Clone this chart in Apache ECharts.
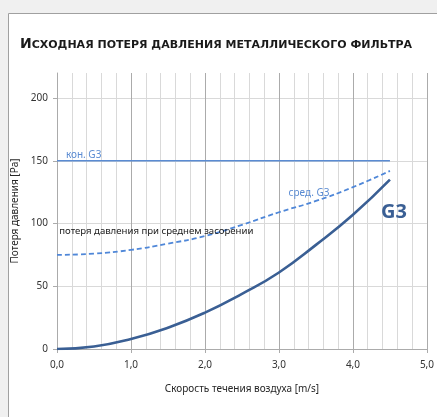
<!DOCTYPE html>
<html>
<head>
<meta charset="utf-8">
<script src="https://cdn.jsdelivr.net/npm/echarts@6/dist/echarts.min.js"></script>
<style>
  html, body { margin: 0; padding: 0; background: #f0f0f0; }
  #chart { width: 437px; height: 417px; }
</style>
</head>
<body>
<div id="chart"></div>
<script>
// Data
var speeds = [0, 0.5, 1.0, 1.5, 2.0, 2.5, 3.0, 3.5, 4.0, 4.5];            // m/s
var initialG3 = [0, 2, 8, 17, 29, 44, 61, 83, 107, 135];                 // Pa (G3)
var averageG3 = [75, 76, 79, 84, 90, 99, 109, 118, 129, 142];            // Pa (сред. G3)
var finalSpeeds = [0, 4.5];
var finalG3 = [150, 150];                                                // Pa (кон. G3)
var yTickLabels = [0, 50, 100, 150, 200];
var xTickLabels = [0, 1, 2, 3, 4, 5];

function pairs(xs, ys) { return xs.map(function (x, i) { return [x, ys[i]]; }); }

var FONT = 'Noto Sans';
var MAJOR = '#ababab', MINOR = '#d9d9d9';

var chart = echarts.init(document.getElementById('chart'), null, { renderer: 'canvas' });

var option = {
  backgroundColor: '#f0f0f0',
  animation: false,
  textStyle: { fontFamily: FONT },
  title: {
    left: 15, top: 32,
    text: '{a|И}{b|СХОДНАЯ ПОТЕРЯ ДАВЛЕНИЯ МЕТАЛЛИЧЕСКОГО ФИЛЬТРА}',
    textStyle: {
      rich: {
        a: { fontFamily: 'DejaVu Sans', fontWeight: 'bold', fontSize: 14, color: '#1a1a1a', verticalAlign: 'bottom' },
        b: { fontFamily: 'DejaVu Sans', fontWeight: 'bold', fontSize: 11, color: '#1a1a1a', verticalAlign: 'bottom' }
      }
    }
  },
  grid: { left: 57, top: 73, width: 370, height: 276, containLabel: false },
  xAxis: {
    type: 'value', min: 0, max: 5, interval: 1,
    name: 'Скорость течения воздуха [m/s]',
    nameLocation: 'middle', nameGap: 35,
    nameTextStyle: { fontFamily: FONT, fontSize: 10, color: '#262626' },
    axisLine: { show: true, lineStyle: { color: MAJOR, width: 1 } },
    axisTick: { show: true, length: 4, lineStyle: { color: MAJOR } },
    axisLabel: {
      fontFamily: FONT, fontSize: 10, color: '#333', margin: 11,
      formatter: function (v) { return v.toFixed(1).replace('.', ','); }
    },
    splitLine: { show: true, lineStyle: { color: MAJOR, width: 1 } },
    minorTick: { show: false, splitNumber: 5 },
    minorSplitLine: { show: true, lineStyle: { color: MINOR, width: 1 } }
  },
  yAxis: {
    type: 'value', min: 0, max: 220, interval: 10,
    name: 'Потеря давления [Pa]',
    nameLocation: 'middle', nameGap: 37, nameRotate: 90,
    nameTextStyle: { fontFamily: FONT, fontSize: 10, color: '#262626' },
    axisLine: { show: true, lineStyle: { color: MAJOR, width: 1 } },
    axisTick: { show: true, length: 4, customValues: yTickLabels, lineStyle: { color: MAJOR } },
    axisLabel: { fontFamily: FONT, fontSize: 10, color: '#333', margin: 9, customValues: yTickLabels },
    splitLine: { show: true, lineStyle: { color: [MAJOR, MINOR, MINOR, MINOR, MINOR], width: 1 } }
  },
  series: [
    {
      name: 'кон. G3', type: 'line', data: pairs(finalSpeeds, finalG3),
      showSymbol: false, symbol: 'none',
      lineStyle: { color: '#5a8bd2', width: 1.6 }, z: 3
    },
    {
      name: 'сред. G3', type: 'line', data: pairs(speeds, averageG3),
      smooth: true, showSymbol: false, symbol: 'none',
      lineStyle: { color: '#4f87d8', width: 1.8, type: [5, 3] }, z: 3
    },
    {
      name: 'G3', type: 'line', data: pairs(speeds, initialG3),
      smooth: true, showSymbol: false, symbol: 'none',
      lineStyle: { color: '#3a5f94', width: 2.6 }, z: 4
    }
  ]
};
chart.setOption(option);

function px(x, y) { return chart.convertToPixel({ gridIndex: 0 }, [x, y]); }
var pKon = px(0.12, 150), pSred = px(3.13, 124), pLoss = px(0.03, 93.5), pG3 = px(4.38, 109);

chart.setOption({
  graphic: [
    { type: 'rect', z: -10, silent: true, shape: { x: 8.5, y: 13.5, width: 600, height: 600 },
      style: { fill: '#ffffff', stroke: '#a0a0a0', lineWidth: 1 } },
    { type: 'text', x: pKon[0], y: pKon[1] - 1, z: 10,
      style: { text: 'кон. G3', fill: '#5a8bd2', font: '10px "' + FONT + '"', textAlign: 'left', textVerticalAlign: 'bottom' } },
    { type: 'text', x: pSred[0], y: pSred[1], z: 10,
      style: { text: 'сред. G3', fill: '#5a8bd2', font: '10px "' + FONT + '"', textAlign: 'left', textVerticalAlign: 'middle' } },
    { type: 'text', x: pLoss[0], y: pLoss[1], z: 10,
      style: { text: 'потеря давления при среднем засорении', fill: '#1a1a1a', font: '9.6px "' + FONT + '"', textAlign: 'left', textVerticalAlign: 'middle' } },
    { type: 'text', x: pG3[0], y: pG3[1], z: 10,
      style: { text: 'G3', fill: '#3a5f94', font: 'bold 20px "' + FONT + '"', textAlign: 'left', textVerticalAlign: 'middle' } }
  ]
});
</script>
</body>
</html>
